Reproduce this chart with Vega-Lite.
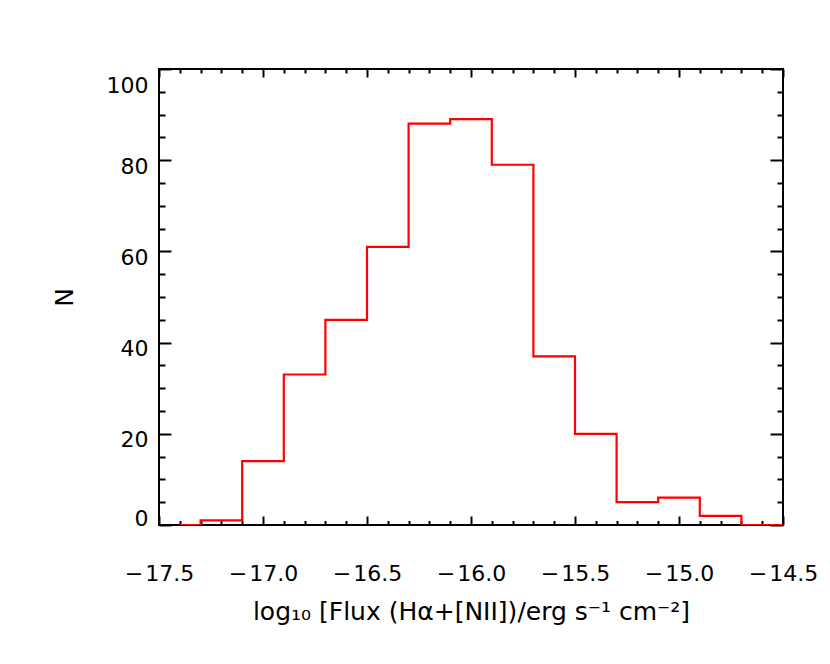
{
  "$schema": "https://vega.github.io/schema/vega-lite/v6.json",
  "width": 624,
  "height": 456,
  "autosize": {"type": "none"},
  "padding": {"left": 159, "top": 69, "right": 47, "bottom": 139},
  "background": "white",
  "config": {
    "view": {"stroke": "black", "strokeWidth": 2},
    "axis": {
      "domain": false,
      "grid": false,
      "tickColor": "black",
      "tickWidth": 2,
      "labelFont": "DejaVu Sans",
      "labelFontSize": 22,
      "labelColor": "black",
      "labelFlush": false,
      "titleFont": "DejaVu Sans",
      "titleFontWeight": "normal",
      "titleColor": "black",
      "titleFontSize": 25
    }
  },
  "data": {
    "values": [
      {"flux": -17.4, "n": 0},
      {"flux": -17.2, "n": 1},
      {"flux": -17.0, "n": 14},
      {"flux": -16.8, "n": 33},
      {"flux": -16.6, "n": 45},
      {"flux": -16.4, "n": 61},
      {"flux": -16.2, "n": 88},
      {"flux": -16.0, "n": 89},
      {"flux": -15.8, "n": 79},
      {"flux": -15.6, "n": 37},
      {"flux": -15.4, "n": 20},
      {"flux": -15.2, "n": 5},
      {"flux": -15.0, "n": 6},
      {"flux": -14.8, "n": 2},
      {"flux": -14.6, "n": 0},
      {"flux": -14.4, "n": 0}
    ]
  },
  "layer": [
    {
      "mark": {"type": "line", "interpolate": "step", "color": "#ff0000", "strokeWidth": 2.2, "clip": true},
      "encoding": {
        "x": {
          "field": "flux", "type": "quantitative",
          "scale": {"domain": [-17.5, -14.5], "nice": false, "zero": false},
          "axis": {
            "orient": "bottom",
            "values": [-17.5, -17.0, -16.5, -16.0, -15.5, -15.0, -14.5],
            "tickSize": -9,
            "labelPadding": 47,
            "labelExpr": "(datum.value < 0 ? '\u2212\u200a' : '') + format(abs(datum.value), '.1f')",
            "title": "log\u2081\u2080 [Flux (H\u03b1+[NII])/erg s\u207b\u00b9 cm\u207b\u00b2]",
            "titlePadding": 15
          }
        },
        "y": {
          "field": "n", "type": "quantitative",
          "scale": {"domain": [0, 100], "nice": false, "zero": true},
          "axis": {
            "orient": "left",
            "values": [0, 20, 40, 60, 80, 100],
            "tickSize": -12,
            "labelPadding": 23,
            "labelOffset": {"condition": [{"test": "datum.value == 100", "value": 16}, {"test": "datum.value == 0", "value": -7}], "value": 6},
            "title": "N",
            "titlePadding": 29
          }
        }
      }
    },
    {
      "mark": {"type": "line", "strokeOpacity": 0},
      "encoding": {
        "x": {
          "field": "flux", "type": "quantitative",
          "scale": {"domain": [-17.5, -14.5], "nice": false, "zero": false},
          "axis": {
            "orient": "bottom",
            "values": [-17.4, -17.3, -17.2, -17.1, -16.9, -16.8, -16.7, -16.6, -16.4, -16.3, -16.2, -16.1, -15.9, -15.8, -15.7, -15.6, -15.4, -15.3, -15.2, -15.1, -14.9, -14.8, -14.7, -14.6],
            "tickSize": -4.5,
            "labels": false,
            "title": null
          }
        },
        "y": {
          "field": "n", "type": "quantitative",
          "scale": {"domain": [0, 100], "nice": false, "zero": true},
          "axis": {
            "orient": "left",
            "values": [5, 10, 15, 25, 30, 35, 45, 50, 55, 65, 70, 75, 85, 90, 95],
            "tickSize": -6,
            "labels": false,
            "title": null
          }
        }
      }
    },
    {
      "mark": {"type": "line", "strokeOpacity": 0},
      "encoding": {
        "x": {
          "field": "flux", "type": "quantitative",
          "scale": {"domain": [-17.5, -14.5], "nice": false, "zero": false},
          "axis": {
            "orient": "top",
            "values": [-17.5, -17.0, -16.5, -16.0, -15.5, -15.0, -14.5],
            "tickSize": -8,
            "labels": false,
            "title": null
          }
        },
        "y": {
          "field": "n", "type": "quantitative",
          "scale": {"domain": [0, 100], "nice": false, "zero": true},
          "axis": {
            "orient": "right",
            "values": [0, 20, 40, 60, 80, 100],
            "tickSize": -13,
            "labels": false,
            "title": null
          }
        }
      }
    },
    {
      "mark": {"type": "line", "strokeOpacity": 0},
      "encoding": {
        "x": {
          "field": "flux", "type": "quantitative",
          "scale": {"domain": [-17.5, -14.5], "nice": false, "zero": false},
          "axis": {
            "orient": "top",
            "values": [-17.4, -17.3, -17.2, -17.1, -16.9, -16.8, -16.7, -16.6, -16.4, -16.3, -16.2, -16.1, -15.9, -15.8, -15.7, -15.6, -15.4, -15.3, -15.2, -15.1, -14.9, -14.8, -14.7, -14.6],
            "tickSize": -4,
            "labels": false,
            "title": null
          }
        },
        "y": {
          "field": "n", "type": "quantitative",
          "scale": {"domain": [0, 100], "nice": false, "zero": true},
          "axis": {
            "orient": "right",
            "values": [5, 10, 15, 25, 30, 35, 45, 50, 55, 65, 70, 75, 85, 90, 95],
            "tickSize": -6,
            "labels": false,
            "title": null
          }
        }
      }
    }
  ],
  "resolve": {"axis": {"x": "independent", "y": "independent"}}
}
